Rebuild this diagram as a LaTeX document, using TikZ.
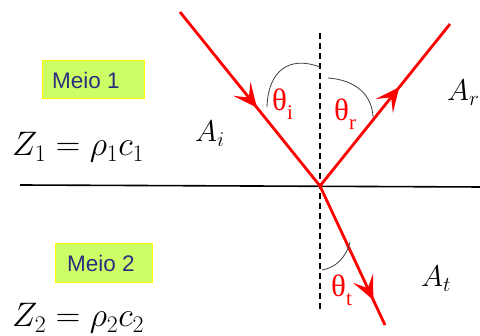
\RequirePackage{fix-cm}
\documentclass[tikz,border=0pt]{standalone}
\usepackage{fontspec}
\usetikzlibrary{decorations.markings,arrows.meta}
\newfontfamily\tnr{Liberation Serif}
\newfontfamily\arl{Liberation Sans}
\definecolor{boxfill}{HTML}{CCFF66}
\definecolor{boxedge}{HTML}{FFFF00}
\definecolor{navy}{HTML}{2E2E80}
\tikzset{
  ray/.style={red, line width=2.8pt},
  midarrow/.style={postaction={decorate,decoration={markings,mark=at position #1 with {\arrow{Stealth[length=24pt,width=22pt,inset=11pt]}}}}},
  meiobox/.style={draw=boxedge, fill=boxfill, line width=1pt, inner sep=0pt},
  meiotext/.style={text=navy, font=\arl\fontsize{22.5}{24}\selectfont, inner sep=0pt},
  anglearc/.style={draw=black!75, line width=0.8pt},
  anglelabel/.style={text=red, font=\tnr\fontsize{31}{33}\selectfont, inner sep=0pt, anchor=base west},
  mathlabel/.style={font=\fontsize{34}{38}\selectfont, inner sep=0pt, anchor=base west},
  alabel/.style={font=\fontsize{30}{34}\selectfont, inner sep=0pt, anchor=base west},
}
\begin{document}
\begin{tikzpicture}[x=1pt,y=-1pt]
\clip (0,0) rectangle (480,336);
\fill[white] (0,0) rectangle (480,336);
% coordinates
\coordinate (O) at (320,186);
\coordinate (I) at (180,12);
\coordinate (R) at (450,24);
\coordinate (T) at (385,325);
\coordinate (N1) at (320,33);
\coordinate (N2) at (320,312);
\coordinate (L1) at (20,185);
\coordinate (L2) at (482,187);
% interface
\draw[line width=1.6pt] (L1) -- (L2);
% normal
\draw[line width=1.8pt, dash pattern=on 6pt off 4pt] (N1) -- (N2);
% rays
\draw[ray, midarrow=0.55] (I) -- (O);
\draw[ray, midarrow=0.61] (O) -- (R);
\draw[ray, midarrow=0.82] (O) -- (T);
% angle arcs
\coordinate (ai1) at (267,107);
\coordinate (ai2) at (320,67);
\coordinate (ar1) at (328,78);
\coordinate (ar2) at (373,117);
\coordinate (at1) at (322,270);
\coordinate (at2) at (350,242);
\draw[anglearc] (ai1) .. controls (268,72) and (288,55) .. (ai2);
\draw[anglearc] (ar1) .. controls (356,80) and (372,95) .. (ar2);
\draw[anglearc] (at1) .. controls (335,268) and (346,258) .. (at2);
% angle labels
\node[anglelabel] (thi) at (272,111) {θ\raisebox{-0.28em}{\fontsize{21}{22}\selectfont i}};
\node[anglelabel] (thr) at (334,121) {θ\raisebox{-0.28em}{\fontsize{21}{22}\selectfont r}};
\node[anglelabel] (tht) at (331,297) {θ\raisebox{-0.28em}{\fontsize{21}{22}\selectfont t}};
% amplitude labels
\node[alabel] (Ai) at (195,142) {$A_i$};
\node[alabel] (Ar) at (447,101) {$A_r$};
\node[alabel] (At) at (421,287) {$A_t$};
% media
\path[meiobox] (42,61) rectangle (144,99);
\node[meiotext] (m1) at (86,80) {Meio 1};
\path[meiobox] (55,244) rectangle (152,283);
\node[meiotext] (m2) at (101,263.5) {Meio 2};
\node[mathlabel] (z1) at (12,156) {$Z_1=\rho_1c_1$};
\node[mathlabel] (z2) at (12,327) {$Z_2=\rho_2c_2$};
\end{tikzpicture}
\end{document}
